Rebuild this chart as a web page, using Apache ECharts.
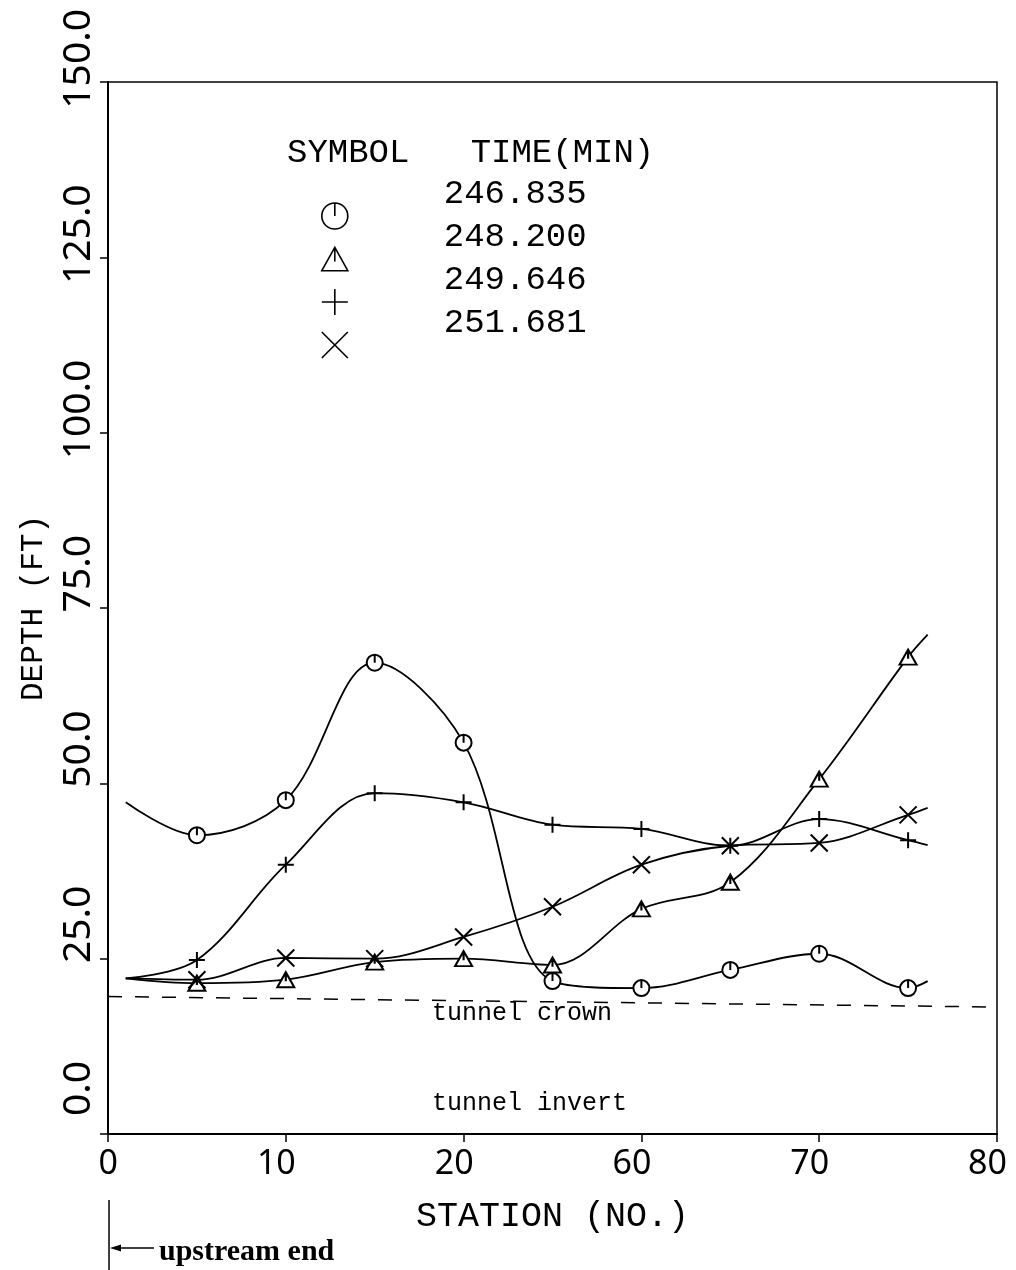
<!DOCTYPE html>
<html>
<head>
<meta charset="utf-8">
<script src="https://cdn.jsdelivr.net/npm/echarts@6/dist/echarts.min.js"></script>
<style>
  html, body { margin: 0; padding: 0; background: #fff; }
  #chart { width: 1016px; height: 1270px; }
</style>
</head>
<body>
<div id="chart"></div>
<script>
// Station positions along the plotted axis (the axis is broken between 20 and 60).
const stationPos = [5, 10, 15, 20, 25, 30, 35, 40, 45];
const xTickLabels = ['0', '10', '20', '60', '70', '80'];

// Water depth (ft) at each station for each output time (min).
const times = ['246.835', '248.200', '249.646', '251.681'];
const depth246835 = [42.6, 47.6, 67.2, 55.8, 21.8, 20.8, 23.4, 25.7, 20.8];
const depth248200 = [21.5, 22.0, 24.5, 25.0, 24.1, 32.1, 35.9, 50.6, 68.0];
const depth249646 = [24.8, 38.4, 48.6, 47.3, 44.1, 43.5, 41.1, 44.9, 41.9];
const depth251681 = [22.0, 25.1, 25.0, 28.1, 32.4, 38.4, 41.1, 41.5, 45.5];

// Where each computed profile begins and ends beyond the plotted stations.
const curveStartPos = 1.0;
const curveEndPos = 46.1;
const curveStartDepth = [47.3, 22.2, 22.2, 22.2];
const curveEndDepth = [21.8, 71.2, 41.2, 46.5];

// Tunnel crown reference line.
const crownPos = [0, 50];
const crownDepth = [19.6, 18.1];

const depths = [depth246835, depth248200, depth249646, depth251681];

// Plotter-style markers: circle and triangle carry a small pen tick.
const markerPaths = [
  'M0,10 A10,10 0 1,1 20,10 A10,10 0 1,1 0,10 Z M10,0 L10,10',
  'M10,0 L20,18 L0,18 Z M10,0 L10,11',
  'M10,0 L10,20 M0,10 L20,10',
  'M0,0 L20,20 M20,0 L0,20'
];
const markerSizes = [[16, 16], [17, 15], [16, 16], [17, 17]];

const plotFont = 'Liberation Mono';
const tickFont = 'Noto Sans';

const chart = echarts.init(document.getElementById('chart'), null, { renderer: 'canvas' });

const profileSeries = times.map((t, i) => ({
  type: 'line',
  name: t,
  smooth: 0.35,
  symbol: 'emptyPath://' + markerPaths[i],
  symbolSize: markerSizes[i],
  symbolKeepAspect: false,
  silent: true,
  z: 3,
  lineStyle: { color: '#000', width: 1.8 },
  itemStyle: { color: '#000' },
  data: [{ value: [curveStartPos, curveStartDepth[i]], symbol: 'none' }]
    .concat(stationPos.map((x, j) => [x, depths[i][j]]))
    .concat([{ value: [curveEndPos, curveEndDepth[i]], symbol: 'none' }])
}));

const crownSeries = {
  type: 'line',
  name: 'tunnel crown',
  silent: true,
  symbol: 'none',
  z: 2,
  lineStyle: { color: '#000', width: 1.5, type: [14, 13] },
  data: crownPos.map((x, i) => [x, crownDepth[i]])
};

chart.setOption({
  animation: false,
  backgroundColor: '#fff',
  grid: {
    left: 108, top: 82, right: 19, bottom: 136,
    show: true, borderColor: '#000', borderWidth: 1.5,
    containLabel: false, outerBoundsMode: 'none'
  },
  title: {
    text: 'SYMBOL   TIME(MIN)',
    left: 287, top: 136, padding: 0,
    textStyle: { fontFamily: plotFont, fontSize: 34, fontWeight: 'normal', color: '#000' }
  },
  legend: {
    orient: 'vertical',
    left: 321, top: 177, padding: 0,
    itemWidth: 26, itemHeight: 26, itemGap: -18,
    selectedMode: false,
    itemStyle: { color: 'rgba(0,0,0,0)', borderColor: '#000', borderWidth: 1.6 },
    // the time value sits a little above its marker
    formatter: name => '{a|' + name + '}\n{b| }',
    textStyle: {
      fontFamily: plotFont, fontSize: 34, color: '#000',
      padding: [0, 0, 0, 91],
      rich: {
        a: { fontFamily: plotFont, fontSize: 34, lineHeight: 34, color: '#000' },
        b: { fontSize: 10, lineHeight: 44 }
      }
    },
    data: times.map((t, i) => ({ name: t, icon: 'path://' + markerPaths[i] }))
  },
  xAxis: {
    type: 'value', min: 0, max: 50, interval: 10,
    axisLine: { show: true, onZero: false, lineStyle: { color: '#000', width: 2 } },
    axisTick: { show: true, length: 8, lineStyle: { color: '#000', width: 1.5 } },
    splitLine: { show: false },
    axisLabel: {
      margin: 13, align: 'left', color: '#000',
      fontFamily: tickFont, fontSize: 34,
      formatter: v => '{t|' + xTickLabels[Math.round(v / 10)] + '}',
      rich: { t: { width: 10, align: 'right', fontFamily: tickFont, fontSize: 34, color: '#000' } }
    },
    name: 'STATION (NO.)', nameLocation: 'middle', nameGap: 65, nameMoveOverlap: false,
    nameTextStyle: { fontFamily: plotFont, fontSize: 35, color: '#000' }
  },
  yAxis: {
    type: 'value', min: 0, max: 150, interval: 25,
    axisLine: { show: true, onZero: false, lineStyle: { color: '#000', width: 2 } },
    axisTick: { show: true, length: 8, lineStyle: { color: '#000', width: 1.5 } },
    splitLine: { show: false },
    axisLabel: {
      rotate: 90, margin: 10, align: 'left', color: '#000',
      fontFamily: tickFont, fontSize: 39,
      formatter: v => '{t|' + v.toFixed(1) + '}',
      rich: { t: { width: 73, align: 'right', fontFamily: tickFont, fontSize: 39, color: '#000' } }
    },
    name: 'DEPTH (FT)', nameLocation: 'middle', nameGap: 59, nameMoveOverlap: false,
    nameTextStyle: { fontFamily: plotFont, fontSize: 31, color: '#000' }
  },
  graphic: [
    { type: 'text', x: 432, y: 1013, silent: true,
      style: { text: 'tunnel crown', font: '25px "Liberation Mono"', fill: '#000', verticalAlign: 'middle' } },
    { type: 'text', x: 432, y: 1103, silent: true,
      style: { text: 'tunnel invert', font: '25px "Liberation Mono"', fill: '#000', verticalAlign: 'middle' } },
    { type: 'text', x: 159, y: 1252, silent: true,
      style: { text: 'upstream end', font: 'bold 30px "Liberation Serif"', fill: '#000', verticalAlign: 'middle' } },
    { type: 'line', silent: true, shape: { x1: 109, y1: 1200, x2: 109, y2: 1270 },
      style: { stroke: '#000', lineWidth: 1.5 } },
    { type: 'line', silent: true, shape: { x1: 118, y1: 1248, x2: 154, y2: 1248 },
      style: { stroke: '#000', lineWidth: 1.5 } },
    { type: 'polygon', silent: true, shape: { points: [[110, 1248], [121, 1244.5], [121, 1251.5]] },
      style: { fill: '#000' } }
  ],
  series: profileSeries.concat([crownSeries])
});
</script>
</body>
</html>
